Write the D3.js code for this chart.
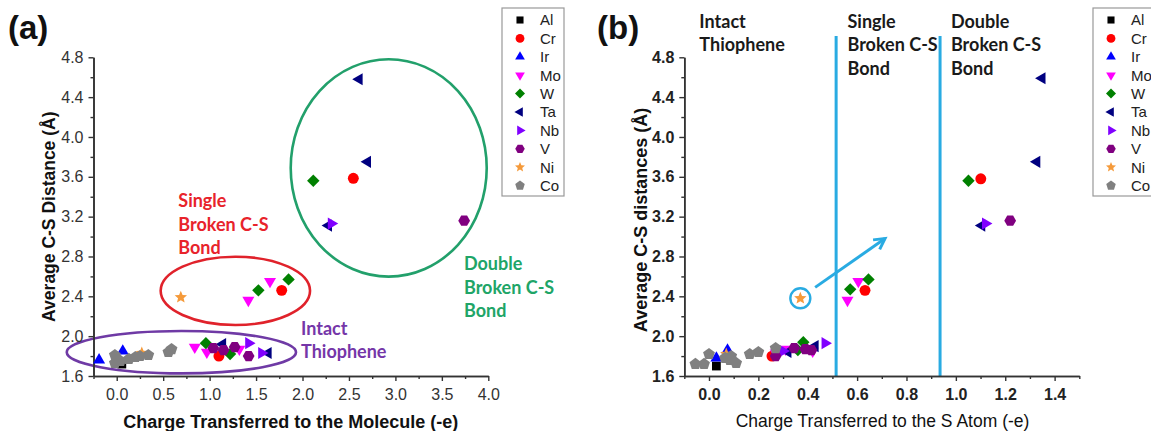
<!DOCTYPE html>
<html>
<head>
<meta charset="utf-8">
<script src="https://cdn.jsdelivr.net/npm/d3@7"></script>
<style>
  body { margin: 0; background: #fff; }
  svg { display: block; }
  text { font-family: Arial, "Liberation Sans", sans-serif; }
  .note { font-family: Lato, "Open Sans", sans-serif; font-weight: 700; }
</style>
</head>
<body>
<svg id="fig" width="1151" height="431"></svg>
<script>
// ---- Series: metals on which thiophene adsorbs ----
const elements = ["Al", "Cr", "Ir", "Mo", "W", "Ta", "Nb", "V", "Ni", "Co"];
const elementColors = ["#000000", "#ff0000", "#0000ff", "#ff00ff", "#008000",
                       "#000080", "#8000ff", "#800080", "#f59a3a", "#808080"];

// Panel (a): [charge transferred to the molecule (-e), average C-S distance (Å)]
const molAl = [[0.055, 1.72]];
const molCr = [[1.10, 1.80], [1.776, 2.46], [2.547, 3.585]];
const molIr = [[-0.19, 1.76], [0.065, 1.85]];
const molMo = [[0.84, 1.89], [0.97, 1.84], [1.32, 1.87], [1.417, 2.36], [1.65, 2.55]];
const molW  = [[0.96, 1.93], [1.22, 1.82], [1.525, 2.46], [1.85, 2.57], [2.116, 3.56]];
const molTa = [[1.14, 1.92], [1.63, 1.83], [2.28, 3.11], [2.61, 4.58], [2.70, 3.75]];
const molNb = [[1.42, 1.93], [1.56, 1.83], [2.31, 3.13]];
const molV  = [[1.04, 1.88], [1.15, 1.86], [1.27, 1.89], [1.42, 1.80], [3.74, 3.16]];
const molNi = [[0.27, 1.83], [0.69, 2.39]];
const molCo = [[-0.02, 1.81], [-0.02, 1.73], [0.01, 1.76], [0.04, 1.75], [0.13, 1.77],
               [0.20, 1.79], [0.25, 1.80], [0.34, 1.81], [0.556, 1.84], [0.59, 1.87]];

// Panel (b): [charge transferred to the S atom (-e), average C-S distance (Å)]
const sAl = [[0.03, 1.70]];
const sCr = [[0.255, 1.80], [0.632, 2.46], [1.101, 3.58]];
const sIr = [[0.03, 1.78], [0.075, 1.86]];
const sMo = [[0.27, 1.83], [0.31, 1.87], [0.42, 1.85], [0.561, 2.36], [0.605, 2.55]];
const sW  = [[0.36, 1.86], [0.382, 1.94], [0.572, 2.47], [0.646, 2.57], [1.051, 3.56]];
const sTa = [[0.32, 1.84], [0.43, 1.90], [1.105, 3.11], [1.349, 4.59], [1.328, 3.75]];
const sNb = [[0.30, 1.85], [0.47, 1.93], [1.12, 3.13]];
const sV  = [[0.27, 1.80], [0.345, 1.88], [0.39, 1.87], [0.415, 1.86], [1.22, 3.16]];
const sNi = [[0.07, 1.82], [0.37, 2.38]];
const sCo = [[-0.055, 1.72], [-0.02, 1.72], [0.0, 1.82], [0.065, 1.78], [0.085, 1.76],
             [0.11, 1.73], [0.09, 1.80], [0.165, 1.82], [0.20, 1.84], [0.27, 1.88]];

const seriesA = [molAl, molCr, molIr, molMo, molW, molTa, molNb, molV, molNi, molCo];
const seriesB = [sAl, sCr, sIr, sMo, sW, sTa, sNb, sV, sNi, sCo];

// Axis ticks
const yTicks = [1.6, 2.0, 2.4, 2.8, 3.2, 3.6, 4.0, 4.4, 4.8];
const xTicksA = [0.0, 0.5, 1.0, 1.5, 2.0, 2.5, 3.0, 3.5, 4.0];
const xTicksB = [0.0, 0.2, 0.4, 0.6, 0.8, 1.0, 1.2, 1.4];

// Charge thresholds separating the three regimes in panel (b)
const regimeBounds = [0.515, 0.936];

// ---- Marker shapes (custom d3.symbol types; size is the radius squared) ----
function polygonType(n, rot, scale) {
  return { draw(ctx, size) {
    const r = Math.sqrt(size) * scale;
    for (let i = 0; i < n; i++) {
      const a = rot + i * 2 * Math.PI / n;
      const px = r * Math.cos(a), py = r * Math.sin(a);
      i ? ctx.lineTo(px, py) : ctx.moveTo(px, py);
    }
    ctx.closePath();
  }};
}
const circleType = { draw(ctx, size) { const r = Math.sqrt(size) * 0.88; ctx.moveTo(r, 0); ctx.arc(0, 0, r, 0, 2 * Math.PI); } };
const starType = { draw(ctx, size) {
  const R = Math.sqrt(size) * 1.05, ri = R * 0.45;
  for (let i = 0; i < 10; i++) {
    const a = -Math.PI / 2 + i * Math.PI / 5, rr = i % 2 ? ri : R;
    const px = rr * Math.cos(a), py = rr * Math.sin(a);
    i ? ctx.lineTo(px, py) : ctx.moveTo(px, py);
  }
  ctx.closePath();
}};
const shapeTypes = [
  polygonType(4, Math.PI / 4, 1.0),          // Al square
  circleType,                                // Cr circle
  polygonType(3, -Math.PI / 2, 1.12),        // Ir up triangle
  polygonType(3, Math.PI / 2, 1.12),         // Mo down triangle
  polygonType(4, 0, 1.0),                    // W diamond
  polygonType(3, Math.PI, 1.12),             // Ta left triangle
  polygonType(3, 0, 1.12),                   // Nb right triangle
  polygonType(6, 0, 0.95),                   // V hexagon
  starType,                                  // Ni star
  polygonType(5, -Math.PI / 2, 1.0)          // Co pentagon
];
const markerR = 6.2;

const svg = d3.select("#fig");
const y = d3.scaleLinear().domain([1.6, 4.8]).range([376, 57.3]);

function drawAxes(g, x, xTicks, xMinor, yMinor, bold, color) {
  const ax = g.append("g").attr("transform", `translate(0,${y.range()[0]})`)
    .call(d3.axisBottom(x).tickValues(xTicks).tickFormat(d3.format(".1f"))
      .tickSize(5).tickSizeOuter(0).tickPadding(8));
  const axm = g.append("g").attr("transform", `translate(0,${y.range()[0]})`)
    .call(d3.axisBottom(x).tickValues(xMinor).tickFormat("").tickSize(3).tickSizeOuter(0));
  const ay = g.append("g").attr("transform", `translate(${x.range()[0]},0)`)
    .call(d3.axisLeft(y).tickValues(yTicks).tickFormat(d3.format(".1f"))
      .tickSize(5).tickSizeOuter(0).tickPadding(5));
  const aym = g.append("g").attr("transform", `translate(${x.range()[0]},0)`)
    .call(d3.axisLeft(y).tickValues(yMinor).tickFormat("").tickSize(3).tickSizeOuter(0));
  [ax, axm, ay, aym].forEach(a => {
    a.select(".domain").attr("stroke", "#333").attr("stroke-width", 1.6);
    a.selectAll(".tick line").attr("stroke", "#333").attr("stroke-width", 1.4);
    a.selectAll(".tick text").attr("fill", color).attr("font-size", 16)
      .attr("font-weight", bold ? 700 : 400)
      .attr("font-family", "Arial, 'Liberation Sans', sans-serif");
  });
}

function drawPoints(g, x, series) {
  series.forEach((pts, i) => {
    g.append("g").selectAll("path").data(pts).join("path")
      .attr("transform", d => `translate(${x(d[0])},${y(d[1])})`)
      .attr("d", d3.symbol().type(shapeTypes[i]).size(markerR * markerR))
      .attr("fill", elementColors[i]);
  });
}

function drawLegend(g, x0, yTop, width) {
  g.append("rect").attr("x", x0).attr("y", yTop).attr("width", width).attr("height", 188)
    .attr("fill", "#fff").attr("stroke", "#999").attr("stroke-width", 1.2);
  elements.forEach((name, i) => {
    const cy = yTop + 12 + i * 18.4;
    g.append("path").attr("transform", `translate(${x0 + 18},${cy})`)
      .attr("d", d3.symbol().type(shapeTypes[i]).size(25)).attr("fill", elementColors[i]);
    g.append("text").attr("x", x0 + 38).attr("y", cy).attr("dy", "0.36em")
      .attr("font-size", 15).attr("fill", "#222").text(name);
  });
}

function noteLines(g, x, yv, lines, color) {
  const t = g.append("text").attr("class", "note").attr("font-size", 18).attr("fill", color);
  lines.forEach((s, i) => {
    t.append("tspan").attr("x", x).attr("y", yv).attr("dy", (0.35 + i * 1.3) + "em").text(s);
  });
}

// ================= Panel (a) =================
{
  const g = svg.append("g");
  const x = d3.scaleLinear().domain([-0.25, 4.0]).range([93.5, 488.3]);
  const xMinor = [-0.25, 0.25, 0.75, 1.25, 1.75, 2.25, 2.75, 3.25, 3.75];
  const yMinor = [1.8, 2.2, 2.6, 3.0, 3.4, 3.8, 4.2, 4.6];

  // Regime ellipses (centre and semi-axes in data units)
  const ellipses = [
    { cx: 0.696, cy: 1.839, rx: 1.234, ry: 0.213, color: "#6f3aa5" },
    { cx: 1.277, cy: 2.455, rx: 0.804, ry: 0.343, color: "#e0222b" },
    { cx: 2.928, cy: 3.689, rx: 1.055, ry: 1.091, color: "#22a06b" }
  ];
  const kx = x(1) - x(0), ky = y(0) - y(1);
  ellipses.forEach(e => {
    g.append("ellipse").attr("cx", x(e.cx)).attr("cy", y(e.cy))
      .attr("rx", e.rx * kx).attr("ry", e.ry * ky)
      .attr("fill", "none").attr("stroke", e.color).attr("stroke-width", 2.6);
  });

  drawAxes(g, x, xTicksA, xMinor, yMinor, false, "#333");
  drawPoints(g, x, seriesA);

  noteLines(g, x(0.663), y(3.357), ["Single", "Broken C-S", "Bond"], "#e8232b");
  noteLines(g, x(1.984), y(2.079), ["Intact", "Thiophene"], "#7536a8");
  noteLines(g, x(3.738), y(2.725), ["Double", "Broken C-S", "Bond"], "#20a567");

  g.append("text").attr("x", 49).attr("y", 216.7).attr("dy", "0.35em")
    .attr("transform", "rotate(-90,49,216.7)").attr("text-anchor", "middle")
    .attr("font-size", 17.5).attr("font-weight", 700).attr("fill", "#111")
    .text("Average C-S Distance (Å)");
  g.append("text").attr("x", 290.8).attr("y", 421.7).attr("dy", "0.35em")
    .attr("text-anchor", "middle").attr("font-size", 18).attr("font-weight", 700).attr("fill", "#111")
    .text("Charge Transferred to the Molecule (-e)");
  g.append("text").attr("x", 8).attr("y", 39).attr("font-size", 33).attr("font-weight", 700)
    .attr("fill", "#111").text("(a)");

  drawLegend(g, 502, 8, 62);
}

// ================= Panel (b) =================
{
  const g = svg.append("g");
  const x = d3.scaleLinear().domain([-0.1, 1.5]).range([684.3, 1079.3]);
  const xMinor = [-0.1, 0.1, 0.3, 0.5, 0.7, 0.9, 1.1, 1.3, 1.5];
  const yMinor = [1.8, 2.2, 2.6, 3.0, 3.4, 3.8, 4.2, 4.6];

  regimeBounds.forEach(v => {
    g.append("line").attr("x1", x(v)).attr("x2", x(v)).attr("y1", 36).attr("y2", y(1.6))
      .attr("stroke", "#29abe2").attr("stroke-width", 3);
  });

  drawAxes(g, x, xTicksB, xMinor, yMinor, true, "#222");
  drawPoints(g, x, seriesB);

  // Highlight of the Ni outlier and its arrow
  g.append("circle").attr("cx", x(sNi[1][0])).attr("cy", y(sNi[1][1])).attr("r", 10)
    .attr("fill", "none").attr("stroke", "#29abe2").attr("stroke-width", 2.4);
  const a0 = [x(0.43), y(2.49)], a1 = [x(0.713), y(2.98)];
  const ang = Math.atan2(a1[1] - a0[1], a1[0] - a0[0]);
  g.append("line").attr("x1", a0[0]).attr("y1", a0[1]).attr("x2", a1[0]).attr("y2", a1[1])
    .attr("stroke", "#29abe2").attr("stroke-width", 3);
  const hl = 12;
  const head = [
    [a1[0] - hl * Math.cos(ang - 0.5), a1[1] - hl * Math.sin(ang - 0.5)],
    a1,
    [a1[0] - hl * Math.cos(ang + 0.5), a1[1] - hl * Math.sin(ang + 0.5)]
  ];
  g.append("path").attr("d", d3.line()(head)).attr("fill", "none")
    .attr("stroke", "#29abe2").attr("stroke-width", 3).attr("stroke-linejoin", "miter");

  noteLines(g, x(-0.039), y(5.157), ["Intact", "Thiophene"], "#1a1a1a");
  noteLines(g, x(0.561), y(5.157), ["Single", "Broken C-S", "Bond"], "#1a1a1a");
  noteLines(g, x(0.98), y(5.157), ["Double", "Broken C-S", "Bond"], "#1a1a1a");

  g.append("text").attr("x", 641).attr("y", 220).attr("dy", "0.35em")
    .attr("transform", "rotate(-90,641,220)").attr("text-anchor", "middle")
    .attr("font-size", 18).attr("font-weight", 700).attr("fill", "#111")
    .text("Average C-S distances (Å)");
  g.append("text").attr("x", 882.5).attr("y", 420.7).attr("dy", "0.35em")
    .attr("text-anchor", "middle").attr("font-size", 17.5).attr("fill", "#111")
    .text("Charge Transferred to the S Atom (-e)");
  g.append("text").attr("x", 597).attr("y", 39).attr("font-size", 33).attr("font-weight", 700)
    .attr("fill", "#111").text("(b)");

  drawLegend(g, 1093, 8, 70);
}
</script>
</body>
</html>
